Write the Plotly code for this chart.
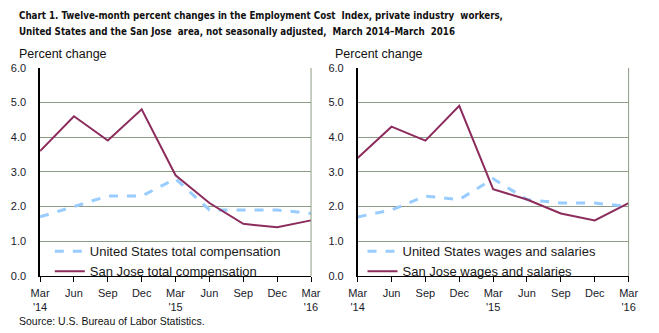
import plotly.graph_objects as go

categories = ["Mar<br>'14", "Jun", "Sep", "Dec", "Mar<br>'15", "Jun", "Sep", "Dec", "Mar<br>'16"]
us_total_comp = [1.7, 2.0, 2.3, 2.3, 2.8, 1.9, 1.9, 1.9, 1.8]
sj_total_comp = [3.6, 4.6, 3.9, 4.8, 2.9, 2.1, 1.5, 1.4, 1.6]
us_wages = [1.7, 1.9, 2.3, 2.2, 2.8, 2.2, 2.1, 2.1, 2.0]
sj_wages = [3.4, 4.3, 3.9, 4.9, 2.5, 2.2, 1.8, 1.6, 2.1]
y_ticks = [0, 1, 2, 3, 4, 5, 6]

W, H = 659, 333
BLUE = "#99CCFF"
MAROON = "#8B2C5C"
GRID = "#8C9C84"
FONT = "Liberation Sans, Arial, sans-serif"
COND = "DejaVu Sans Condensed, Liberation Sans, sans-serif"

xs = list(range(len(categories)))
fig = go.Figure()

def px_x(p):
    return p / W

def px_y(p):
    return (H - p) / H

fig.add_trace(go.Scatter(x=xs, y=us_total_comp, mode="lines", name="United States total compensation",
                         line=dict(color=BLUE, width=3, dash="dash"), xaxis="x", yaxis="y", legend="legend"))
fig.add_trace(go.Scatter(x=xs, y=sj_total_comp, mode="lines", name="San Jose total compensation",
                         line=dict(color=MAROON, width=2), xaxis="x", yaxis="y", legend="legend"))
fig.add_trace(go.Scatter(x=xs, y=us_wages, mode="lines", name="United States wages and salaries",
                         line=dict(color=BLUE, width=3, dash="dash"), xaxis="x2", yaxis="y2", legend="legend2"))
fig.add_trace(go.Scatter(x=xs, y=sj_wages, mode="lines", name="San Jose wages and salaries",
                         line=dict(color=MAROON, width=2), xaxis="x2", yaxis="y2", legend="legend2"))

xdom1 = [px_x(32), px_x(311)]
xdom2 = [px_x(359), px_x(638)]
ydom = [px_y(280), px_y(64)]

xaxis_common = dict(range=[0, 8], tickmode="array", tickvals=xs, ticktext=categories,
                    showgrid=False, zeroline=False, showline=True, linecolor="black", linewidth=1,
                    ticks="outside", ticklen=5, tickcolor="black", tickwidth=1, ticklabelstandoff=2,
                    tickfont=dict(family=FONT, size=11, color="#1a1a2a"), fixedrange=True)
yaxis_common = dict(range=[0, 6], tickmode="array", tickvals=y_ticks, tickformat=".1f",
                    showgrid=True, gridcolor=GRID, gridwidth=1, zeroline=False,
                    showline=True, linecolor="black", linewidth=1.5, ticks="", ticklabelstandoff=10,
                    tickfont=dict(family=FONT, size=11, color="#1a1a2a"), fixedrange=True)

fig.update_layout(
    width=W, height=H, margin=dict(l=0, r=0, t=0, b=0),
    paper_bgcolor="white", plot_bgcolor="white",
    xaxis=dict(domain=xdom1, anchor="y", **xaxis_common),
    yaxis=dict(domain=ydom, anchor="x", **yaxis_common),
    xaxis2=dict(domain=xdom2, anchor="y2", **xaxis_common),
    yaxis2=dict(domain=ydom, anchor="x2", **yaxis_common),
    legend=dict(x=px_x(42), y=px_y(239), xanchor="left", yanchor="top", bgcolor="rgba(0,0,0,0)",
                font=dict(family=FONT, size=13, color="#1a1a1a"), tracegroupgap=0, itemwidth=30),
    legend2=dict(x=px_x(364), y=px_y(239), xanchor="left", yanchor="top", bgcolor="rgba(0,0,0,0)",
                 font=dict(family=FONT, size=13, color="#1a1a1a"), tracegroupgap=0, itemwidth=30),
    showlegend=True,
)

# right border of each plot area
for xr, yr in (("x", "y"), ("x2", "y2")):
    fig.add_shape(type="line", xref=xr + " domain", yref=yr, x0=1, x1=1, y0=0, y1=6,
                  line=dict(color=GRID, width=1))

title1 = "Chart 1. Twelve-month percent changes in the Employment Cost  Index, private industry  workers,"
title2 = "United States and the San Jose  area, not seasonally adjusted,  March 2014–March  2016"
fig.add_annotation(text="<b>" + title1 + "</b>", xref="paper", yref="paper", x=px_x(8), y=px_y(10),
                   xanchor="left", yanchor="middle", showarrow=False,
                   font=dict(family=COND, size=9.7, color="#111111"))
fig.add_annotation(text="<b>" + title2 + "</b>", xref="paper", yref="paper", x=px_x(8), y=px_y(26),
                   xanchor="left", yanchor="middle", showarrow=False,
                   font=dict(family=COND, size=9.7, color="#111111"))
for xp in (8, 334):
    fig.add_annotation(text="Percent change", xref="paper", yref="paper", x=px_x(xp), y=px_y(50),
                       xanchor="left", yanchor="middle", showarrow=False,
                       font=dict(family=FONT, size=12.5, color="#111111"))
fig.add_annotation(text="Source: U.S. Bureau of Labor Statistics.", xref="paper", yref="paper",
                   x=px_x(8), y=px_y(327), xanchor="left", yanchor="middle", showarrow=False,
                   font=dict(family=FONT, size=10.5, color="#111111"))

fig.write_html("out.html")
